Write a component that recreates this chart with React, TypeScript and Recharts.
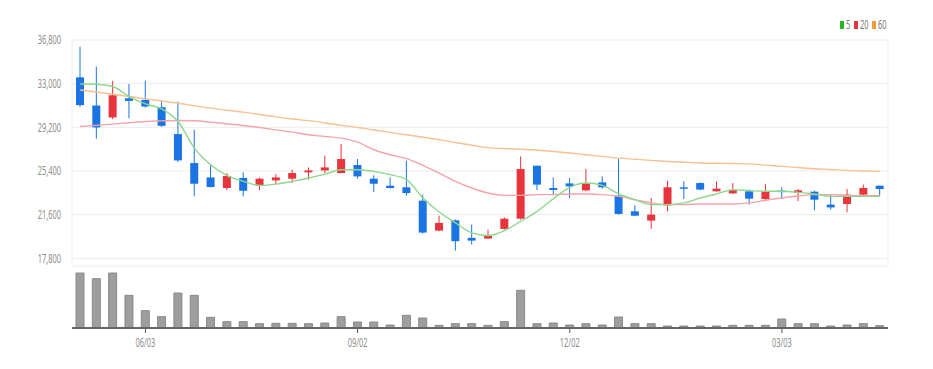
import { ComposedChart, Bar, Line, XAxis, YAxis, CartesianGrid } from 'recharts'

// weekly candles, 2024-05-06 .. 2025-04-14
const dates = [
    '05/06', '05/13', '05/20', '05/27', '06/03', '06/10', '06/17', '06/24', '07/01', '07/08',
    '07/15', '07/22', '07/29', '08/05', '08/12', '08/19', '08/26', '09/02', '09/09', '09/16',
    '09/23', '09/30', '10/07', '10/14', '10/21', '10/28', '11/04', '11/11', '11/18', '11/25',
    '12/02', '12/09', '12/16', '12/23', '12/30', '01/06', '01/13', '01/20', '01/27', '02/03',
    '02/10', '02/17', '02/24', '03/03', '03/10', '03/17', '03/24', '03/31', '04/07', '04/14',
]
const dateTicks = ['06/03', '09/02', '12/02', '03/03']
const priceTicks = [17800, 21600, 25400, 29200, 33000, 36800]

const opens = [
    33550, 31100, 30060, 31730, 31590, 30950, 28610, 26090, 24840, 23920,
    24790, 24100, 24580, 24730, 25280, 25450, 25220, 25920, 24730, 24120,
    23980, 22820, 20210, 21110, 19580, 19520, 20360, 21250, 25860, 23920,
    24320, 23710, 24410, 23250, 21890, 21080, 22410, 23980, 24350, 23630,
    23450, 23630, 22960, 23690, 23510, 23600, 22470, 22530, 23340, 24120,
]
const highs = [
    36220, 34480, 33240, 32980, 33270, 31500, 31440, 28980, 26000, 25220,
    25280, 24820, 25130, 25510, 25710, 26730, 27740, 26440, 25020, 24840,
    26290, 23340, 21510, 21170, 20730, 20300, 21370, 26670, 25860, 24840,
    24790, 25570, 24930, 26440, 22410, 23050, 24550, 24500, 24410, 24500,
    24350, 23770, 24260, 23980, 23830, 23690, 23340, 23830, 24210, 24120,
]
const lows = [
    31000, 28200, 29910, 30000, 30920, 29240, 26180, 23190, 23980, 23720,
    23190, 23720, 24240, 24350, 24640, 25220, 25200, 24730, 23570, 23860,
    23250, 19950, 20150, 18470, 19000, 19480, 20300, 21170, 23750, 23340,
    23050, 23630, 23860, 21600, 21460, 20360, 21890, 22960, 23720, 23600,
    23400, 22470, 22760, 22960, 22780, 21980, 22040, 21800, 23300, 23250,
]
const closes = [
    31130, 29190, 31990, 31500, 31010, 29330, 26320, 24290, 24000, 24970,
    23680, 24730, 24840, 25220, 25450, 25710, 26440, 24930, 24290, 23920,
    23480, 20040, 20880, 19290, 19340, 19780, 21250, 25570, 24210, 23750,
    24060, 24320, 23980, 21660, 21510, 21600, 23980, 23860, 23780, 23860,
    23740, 22990, 23570, 23570, 23720, 22900, 22230, 23340, 23920, 23830,
]
const volumes = [
    1650, 1480, 1650, 980, 520, 340, 1050, 980, 320, 190,
    190, 130, 140, 140, 130, 150, 340, 180, 180, 90,
    380, 300, 80, 130, 130, 80, 190, 1130, 130, 150,
    90, 130, 90, 330, 130, 130, 60, 60, 60, 60,
    80, 80, 80, 270, 130, 130, 60, 90, 130, 70,
]
const ma5 = [
    32970, 32950, 32750, 31880, 31240, 30810, 29710, 27390, 25940, 24990,
    24500, 24150, 24260, 24500, 24790, 25130, 25510, 25510, 25370, 25080,
    24640, 23050, 21830, 20880, 20010, 19780, 20210, 21020, 21890, 22990,
    23980, 24350, 24150, 23400, 22900, 22470, 22470, 22620, 23050, 23400,
    23770, 23690, 23630, 23630, 23540, 23400, 23190, 23190, 23190, 23190,
]
const ma20 = [
    29270, 29370, 29480, 29600, 29710, 29760, 29790, 29770, 29650, 29510,
    29360, 29180, 28980, 28780, 28550, 28410, 28260, 27910, 27250, 26810,
    26470, 25890, 25220, 24500, 23920, 23480, 23280, 23280, 23340, 23340,
    23400, 23400, 23340, 23190, 22900, 22620, 22470, 22470, 22530, 22530,
    22530, 22620, 22850, 23050, 23220, 23340, 23340, 23280, 23250, 23250,
]
const ma60 = [
    32450, 32270, 32080, 31880, 31680, 31490, 31300, 31080, 30870, 30690,
    30520, 30320, 30110, 29920, 29780, 29580, 29380, 29190, 28970, 28760,
    28550, 28340, 28130, 27880, 27640, 27430, 27350, 27290, 27230, 27100,
    26960, 26810, 26670, 26520, 26420, 26320, 26230, 26160, 26100, 26070,
    26050, 26020, 25910, 25800, 25700, 25600, 25530, 25450, 25400, 25365,
]

const rows = dates.map((date, i) => ({
    date,
    open: opens[i],
    high: highs[i],
    low: lows[i],
    close: closes[i],
    volume: volumes[i],
    ma5: ma5[i],
    ma20: ma20[i],
    ma60: ma60[i],
}))

const UP = '#e8343c'
const DOWN = '#1a74e4'
const GRID = '#ececec'
const TEXT = '#8c8c8c'
const FONT = '"Noto Sans", sans-serif'

function Candle(props: any) {
    const { x, y, width, height, payload } = props
    const { open, close, high, low } = payload
    const color = close >= open ? UP : DOWN
    const top = Math.min(y, y + height)
    const h = Math.abs(height)
    const range = high - low || 1
    const toY = (v: number) => top + ((high - v) / range) * h
    const bodyTop = toY(Math.max(open, close))
    const bodyBot = toY(Math.min(open, close))
    const cx = x + width / 2
    return (
        <g>
            <line x1={cx} x2={cx} y1={top} y2={top + h} stroke={color} strokeWidth={1} />
            <rect x={x} y={bodyTop} width={width} height={Math.max(bodyBot - bodyTop, 1.5)} fill={color} />
        </g>
    )
}

// the reference text is horizontally squeezed
function PriceTick({ x, y, payload }: any) {
    return (
        <g transform={`translate(${x - 3},${y})`}>
            <text transform="scale(0.62,1)" textAnchor="end" dy="0.35em" fontSize={12} fill={TEXT} fontFamily={FONT}>
                {payload.value.toLocaleString('en-US')}
            </text>
        </g>
    )
}

function DateTick({ x, y, payload }: any) {
    return (
        <g transform={`translate(${x},${y})`}>
            <text transform="scale(0.62,1)" textAnchor="middle" dy={12} fontSize={12} fill={TEXT} fontFamily={FONT}>
                {payload.value}
            </text>
        </g>
    )
}

function MaLegend() {
    const items = [
        { label: '5', color: '#22b822', x: 840 },
        { label: '20', color: UP, x: 854 },
        { label: '60', color: '#f39c36', x: 872 },
    ]
    return (
        <svg width={933} height={40} style={{ position: 'absolute', left: 0, top: 0 }}>
            {items.map((it) => (
                <g key={it.label}>
                    <rect x={it.x} y={21} width={4} height={8} fill={it.color} />
                    <g transform={`translate(${it.x + 6},25)`}>
                        <text transform="scale(0.62,1)" dy="0.35em" fontSize={12} fill="#777" fontFamily={FONT}>
                            {it.label}
                        </text>
                    </g>
                </g>
            ))}
        </svg>
    )
}

export default function App() {
    return (
        <div style={{ position: 'absolute', left: 0, top: 0, width: 933, height: 369, background: '#fff' }}>
            {/* price panel */}
            <div style={{ position: 'absolute', left: 0, top: 0 }}>
                <ComposedChart width={933} height={270} data={rows} margin={{ top: 40, right: 45, bottom: 4, left: 0 }}>
                    {/* vertical grid comes from the x axis ticks, so it stays behind the candles */}
                    <CartesianGrid stroke={GRID} />
                    <XAxis
                        dataKey="date"
                        ticks={dateTicks}
                        height={0}
                        tick={false}
                        tickLine={false}
                        axisLine={{ stroke: '#333', strokeWidth: 2 }}
                    />
                    <YAxis
                        width={72}
                        domain={[17130, 36800]}
                        ticks={priceTicks}
                        allowDataOverflow
                        axisLine={false}
                        tickLine={false}
                        tick={<PriceTick />}
                    />
                    <Line dataKey="ma60" type="monotone" stroke="#f8c08e" strokeWidth={1.4} dot={false} isAnimationActive={false} />
                    <Line dataKey="ma20" type="monotone" stroke="#f5a3ab" strokeWidth={1.4} dot={false} isAnimationActive={false} />
                    <Line dataKey="ma5" type="monotone" stroke="#8cd88c" strokeWidth={1.4} dot={false} isAnimationActive={false} />
                    <Bar dataKey={(d: any) => [d.low, d.high]} barSize={8} shape={<Candle />} isAnimationActive={false} />
                </ComposedChart>
            </div>

            {/* volume panel */}
            <div style={{ position: 'absolute', left: 0, top: 268 }}>
                <ComposedChart width={933} height={101} data={rows} margin={{ top: 0, right: 45, bottom: 0, left: 72 }}>
                    <XAxis
                        dataKey="date"
                        ticks={dateTicks}
                        height={41}
                        tickSize={5}
                        tickLine={{ stroke: '#555' }}
                        axisLine={{ stroke: '#666', strokeWidth: 2 }}
                        tick={<DateTick />}
                    />
                    <YAxis hide domain={[0, 1800]} />
                    <Bar dataKey="volume" barSize={8} fill="#9e9e9e" stroke="#8a8a8a" isAnimationActive={false} />
                </ComposedChart>
            </div>

            <MaLegend />
        </div>
    )
}
